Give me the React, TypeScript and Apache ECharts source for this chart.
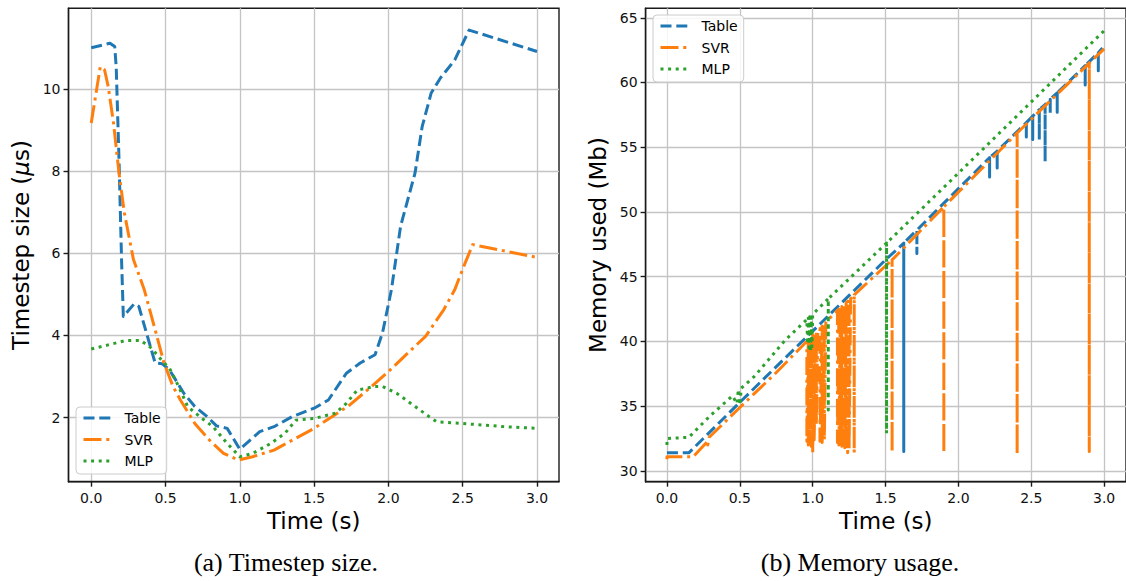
import React, { useEffect, useRef } from "react";
import * as echarts from "echarts";

// ---------- tick values ----------
const TIME_TICKS = [0, 0.5, 1, 1.5, 2, 2.5, 3];
const STEP_TICKS = [2, 4, 6, 8, 10];
const MEM_TICKS = [30, 35, 40, 45, 50, 55, 60, 65];
const SERIES_NAMES = ["Table", "SVR", "MLP"];

// ---------- (a) Timestep size (µs) vs time (s) ----------
const stepTable: [number, number][] = [
  [0, 11.0], [0.126, 11.11], [0.158, 11.03], [0.168, 10.54], [0.187, 8.27], [0.204, 5.85],
  [0.216, 4.46], [0.289, 4.77], [0.32, 4.71], [0.43, 3.33], [0.478, 3.31], [0.527, 3.16],
  [0.624, 2.59], [0.697, 2.27], [0.782, 2.02], [0.843, 1.8], [0.915, 1.74], [1.0, 1.23],
  [1.134, 1.66], [1.23, 1.78], [1.35, 2.02], [1.5, 2.23], [1.596, 2.43], [1.717, 3.08],
  [1.81, 3.33], [1.91, 3.53], [1.96, 4.06], [2.02, 5.11], [2.082, 6.66], [2.13, 7.3],
  [2.179, 7.95], [2.227, 9.08], [2.288, 9.9], [2.349, 10.26], [2.446, 10.7], [2.543, 11.43],
  [3.0, 10.91],
];
const stepSVR: [number, number][] = [
  [0, 9.17], [0.061, 10.54], [0.09, 10.46], [0.114, 10.06], [0.15, 9.17], [0.187, 7.95],
  [0.223, 6.98], [0.284, 5.85], [0.357, 5.11], [0.43, 4.14], [0.49, 3.33], [0.55, 2.76],
  [0.6, 2.43], [0.697, 1.86], [0.794, 1.46], [0.89, 1.13], [0.99, 0.97], [1.086, 1.05],
  [1.23, 1.21], [1.377, 1.5], [1.5, 1.74], [1.62, 2.02], [1.74, 2.31], [1.887, 2.76],
  [2.0, 3.12], [2.13, 3.57], [2.25, 3.98], [2.373, 4.63], [2.446, 5.11], [2.507, 5.68],
  [2.567, 6.21], [3.0, 5.9],
];
const stepMLP: [number, number][] = [
  [0, 3.67], [0.114, 3.77], [0.236, 3.88], [0.333, 3.88], [0.406, 3.69], [0.48, 3.37],
  [0.527, 3.2], [0.588, 2.76], [0.649, 2.27], [0.746, 1.98], [0.82, 1.78], [0.916, 1.37],
  [1.0, 1.05], [1.086, 1.13], [1.207, 1.37], [1.304, 1.62], [1.377, 1.94], [1.5, 1.98],
  [1.644, 2.11], [1.717, 2.35], [1.79, 2.67], [1.91, 2.76], [1.96, 2.76], [2.057, 2.59],
  [2.18, 2.27], [2.276, 2.02], [2.325, 1.9], [2.49, 1.86], [2.786, 1.78], [3.0, 1.74],
];

// ---------- (b) Memory used (Mb) vs time (s) ----------
const memTable: [number, number][] = [
  [0, 31.4], [0.15, 31.4], [0.5, 35.3], [1.0, 40.8], [1.5, 46.3],
  [1.625, 47.6], [1.625, 31.5], [1.625, 47.6],
  [1.715, 48.6], [1.715, 46.8], [1.715, 48.6],
  [2.0, 51.8],
  [2.214, 54.2], [2.214, 52.7], [2.214, 54.2],
  [2.266, 54.7], [2.266, 53.4], [2.266, 54.7],
  [2.466, 56.9], [2.466, 55.8], [2.466, 56.9],
  [2.51, 57.4], [2.51, 55.6], [2.51, 57.4],
  [2.555, 57.9], [2.555, 55.6], [2.555, 57.9],
  [2.595, 58.3], [2.595, 53.9], [2.595, 58.3],
  [2.63, 58.7], [2.63, 57.6], [2.63, 58.7],
  [2.678, 59.2], [2.678, 57.7], [2.678, 59.2],
  [2.87, 61.3], [2.87, 59.8], [2.87, 61.3],
  [2.96, 62.3], [2.96, 60.9], [2.96, 62.3],
  [3.0, 62.8],
];
const memSVR: [number, number][] = [
  [0, 30.9], [0, 31.1], [0.18, 31.1], [0.28, 32.3], [0.28, 32.0], [0.29, 32.6], [0.5, 34.9],
  [0.75, 37.6], [0.95, 39.9],
  [0.96, 40.0], [0.96, 32.3], [0.97, 40.1], [0.97, 32.0], [0.98, 40.2], [0.98, 32.4],
  [0.99, 40.3], [0.99, 31.9], [1.0, 40.5], [1.0, 31.3], [1.01, 40.6], [1.01, 32.4],
  [1.025, 40.7], [1.025, 33.6], [1.035, 40.8],
  [1.05, 41.0], [1.05, 32.3], [1.065, 41.2], [1.065, 32.2], [1.08, 41.4], [1.08, 32.4],
  [1.09, 41.5],
  [1.17, 42.4], [1.17, 32.2], [1.18, 42.5], [1.18, 32.0], [1.19, 42.6], [1.19, 32.3],
  [1.2, 42.7], [1.2, 31.9], [1.21, 42.8], [1.21, 32.2], [1.22, 42.9], [1.22, 31.8],
  [1.23, 43.0], [1.23, 31.6], [1.24, 43.1], [1.24, 31.4], [1.25, 43.2], [1.25, 31.7],
  [1.26, 43.3],
  [1.285, 43.6], [1.285, 31.4], [1.285, 43.6],
  [1.545, 46.3], [1.545, 31.5], [1.545, 46.3],
  [1.9, 50.4], [1.9, 31.4], [1.9, 50.4],
  [2.403, 56.1], [2.403, 31.3], [2.403, 56.1],
  [2.898, 61.5], [2.898, 31.5], [2.898, 61.5],
  [3.0, 62.6],
];
const memMLP: [number, number][] = [
  [0, 32.0], [0, 32.5], [0.15, 32.6], [0.3, 34.3], [0.45, 35.8], [0.48, 35.2], [0.49, 36.3],
  [0.5, 35.1], [0.51, 36.4], [0.6, 37.3], [0.811, 40.1],
  [0.96, 41.7], [0.965, 39.8], [0.97, 41.8], [0.975, 39.5], [0.98, 41.9], [0.985, 39.2],
  [0.99, 41.9], [0.995, 39.6], [1.0, 42.1],
  [1.107, 43.3], [1.107, 34.7], [1.107, 43.3],
  [1.507, 47.6], [1.507, 32.9], [1.507, 47.6],
  [2.0, 53.0], [2.5, 58.5], [3.0, 64.0],
];

const COLORS = ["#1f77b4", "#ff7f0e", "#2ca02c"];
const DASHES: number[][] = [
  [11, 4.8],
  [18, 4.8, 3, 4.8],
  [3, 4.6],
];
const FONT = "DejaVu Sans";

export default function App() {
  const ref = useRef<HTMLDivElement>(null);

  useEffect(() => {
    if (!ref.current) return;
    const chart = echarts.init(ref.current, undefined, { renderer: "svg" });

    const frame = { color: "#1a1a1a", width: 1.4 };
    const gridLine = { show: true, lineStyle: { color: "#c4c4c4", width: 1.3 } };
    const nameStyle = {
      fontFamily: FONT,
      fontSize: 23,
      color: "#000",
      rich: { it: { fontFamily: FONT, fontSize: 23, fontStyle: "italic", color: "#000" } },
    };

    const xAxisFor = (gridIndex: number, min: number, max: number) => ({
      type: "value",
      gridIndex,
      min,
      max,
      name: "Time (s)",
      nameLocation: "middle",
      nameGap: 28,
      nameTextStyle: nameStyle,
      axisLine: { show: true, onZero: false, lineStyle: frame },
      axisTick: { show: true, inside: false, length: 5, lineStyle: frame, customValues: TIME_TICKS },
      axisLabel: {
        customValues: TIME_TICKS,
        formatter: (v: number) => v.toFixed(1),
        fontFamily: FONT,
        fontSize: 14,
        color: "#111",
        margin: 9,
      },
      splitLine: gridLine,
    });

    const yAxisFor = (gridIndex: number, min: number, max: number, ticks: number[], name: string) => ({
      type: "value",
      gridIndex,
      min,
      max,
      name,
      nameLocation: "middle",
      nameGap: 36,
      nameTextStyle: nameStyle,
      axisLine: { show: true, onZero: false, lineStyle: frame },
      axisTick: { show: true, inside: false, length: 5, lineStyle: frame, customValues: ticks },
      axisLabel: {
        customValues: ticks,
        formatter: (v: number) => String(v),
        fontFamily: FONT,
        fontSize: 14,
        color: "#111",
        margin: 8,
      },
      splitLine: gridLine,
    });

    const mkSeries = (name: string, idx: number, data: [number, number][], axis: number) => ({
      name,
      type: "line",
      xAxisIndex: axis,
      yAxisIndex: axis,
      data,
      symbol: "none",
      smooth: false,
      z: 2 + idx,
      lineStyle: { color: COLORS[idx], width: 3, type: DASHES[idx], cap: "butt", join: "round" },
      itemStyle: { color: COLORS[idx] },
    });

    const legendFor = (left: number, top: number) => ({
      data: SERIES_NAMES,
      orient: "vertical",
      left,
      top,
      selectedMode: false,
      itemWidth: 27,
      itemHeight: 14,
      itemGap: 7.5,
      padding: [4, 6, 6, 6],
      backgroundColor: "rgba(255,255,255,0.85)",
      borderColor: "#cccccc",
      borderWidth: 1,
      borderRadius: 4,
      itemStyle: { opacity: 0, borderWidth: 0 },
      lineStyle: { width: 3, cap: "butt" },
      textStyle: { fontFamily: FONT, fontSize: 14, color: "#000", lineHeight: 14, padding: [0, 0, 0, 9] },
    });

    chart.setOption({
      animation: false,
      backgroundColor: "#ffffff",
      grid: [
        { left: 68.5, top: 8.3, width: 490.5, height: 473.4, show: true, borderColor: "#1a1a1a", borderWidth: 1.4, backgroundColor: "transparent" },
        { left: 645.6, top: 8.3, width: 486, height: 473.4, show: true, borderColor: "#1a1a1a", borderWidth: 1.4, backgroundColor: "transparent" },
      ],
      xAxis: [xAxisFor(0, -0.153, 3.148), xAxisFor(1, -0.1465, 3.15)],
      yAxis: [
        yAxisFor(0, 0.442, 11.96, STEP_TICKS, "Timestep size ({it|\u03bc}s)"),
        yAxisFor(1, 29.17, 65.73, MEM_TICKS, "Memory used (Mb)"),
      ],
      legend: [legendFor(76, 407), legendFor(653, 15)],
      series: [
        mkSeries("Table", 0, stepTable, 0),
        mkSeries("SVR", 1, stepSVR, 0),
        mkSeries("MLP", 2, stepMLP, 0),
        mkSeries("Table", 0, memTable, 1),
        mkSeries("SVR", 1, memSVR, 1),
        mkSeries("MLP", 2, memMLP, 1),
      ],
      graphic: [
        {
          type: "text",
          x: 286,
          y: 562,
          style: { text: "(a) Timestep size.", fontFamily: "Liberation Serif", fontSize: 26, fill: "#000", align: "center", verticalAlign: "middle" },
        },
        {
          type: "text",
          x: 860,
          y: 562,
          style: { text: "(b) Memory usage.", fontFamily: "Liberation Serif", fontSize: 26, fill: "#000", align: "center", verticalAlign: "middle" },
        },
      ],
    });

    return () => chart.dispose();
  }, []);

  return (
    <div
      ref={ref}
      style={{ position: "absolute", left: 0, top: 0, width: 1126, height: 581, overflow: "hidden" }}
    />
  );
}
